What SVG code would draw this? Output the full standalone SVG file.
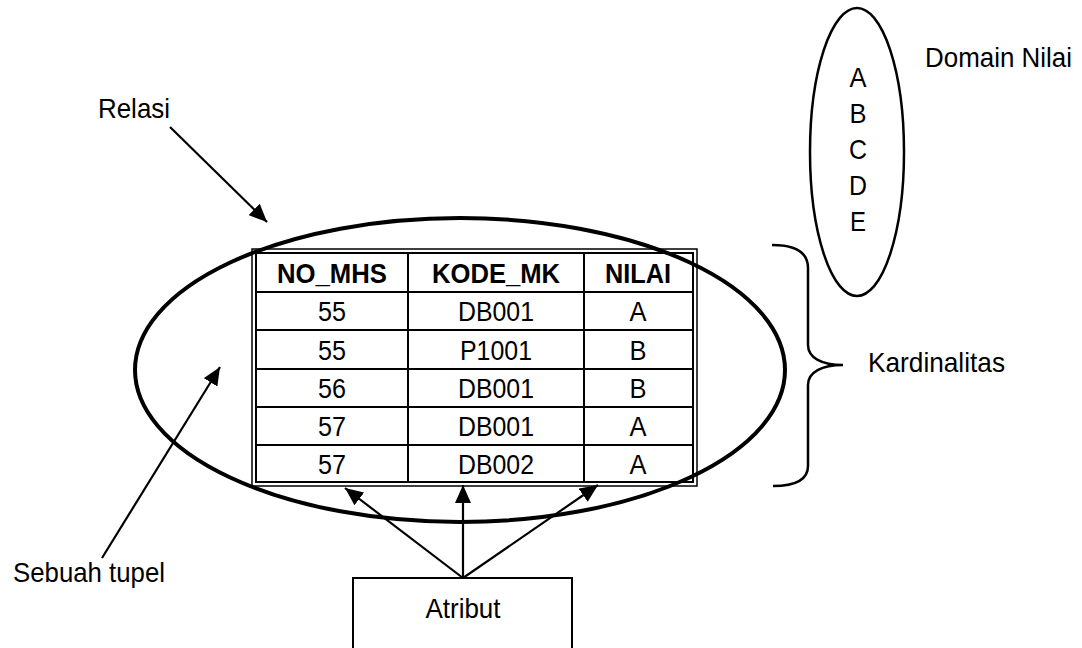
<svg xmlns="http://www.w3.org/2000/svg" width="1082" height="648" viewBox="0 0 1082 648">
<style>
  text { font-family: "Liberation Sans", Arial, sans-serif; fill: #000; }
  .lbl { font-size: 28px; }
  .cell { font-size: 28px; text-anchor: middle; }
  .hdr { font-size: 28px; font-weight: bold; text-anchor: middle; }
  .dom { font-size: 28px; text-anchor: middle; }
  .thin { fill: none; stroke: #000; stroke-width: 1.5; }
  .grid { fill: none; stroke: #000; stroke-width: 2; }
  .conn { fill: none; stroke: #000; stroke-width: 2.2; }
</style>
<defs>
  <marker id="ah" markerUnits="userSpaceOnUse" markerWidth="20" markerHeight="16" refX="18" refY="8" orient="auto">
    <path d="M0,0 L18,8 L0,16 Z" fill="#000"/>
  </marker>
</defs>
<rect width="1082" height="648" fill="#fff"/>

<g id="relasi-table">
  <rect x="252" y="249" width="445" height="237" class="thin"/>
  <rect x="256" y="253" width="437" height="229" class="grid"/>
  <line x1="408" y1="253" x2="408" y2="482" class="grid"/>
  <line x1="584" y1="253" x2="584" y2="482" class="grid"/>
  <line x1="256" y1="292" x2="693" y2="292" class="grid"/>
  <line x1="256" y1="330" x2="693" y2="330" class="grid"/>
  <line x1="256" y1="369" x2="693" y2="369" class="grid"/>
  <line x1="256" y1="407" x2="693" y2="407" class="grid"/>
  <line x1="256" y1="445" x2="693" y2="445" class="grid"/>
  <text x="332" y="283" class="hdr" textLength="110" lengthAdjust="spacingAndGlyphs">NO_MHS</text>
  <text x="496" y="283" class="hdr" textLength="128" lengthAdjust="spacingAndGlyphs">KODE_MK</text>
  <text x="638" y="283" class="hdr" textLength="66" lengthAdjust="spacingAndGlyphs">NILAI</text>
  <text x="332" y="321" class="cell" textLength="28" lengthAdjust="spacingAndGlyphs">55</text>
  <text x="496" y="321" class="cell" textLength="76" lengthAdjust="spacingAndGlyphs">DB001</text>
  <text x="638" y="321" class="cell" textLength="17" lengthAdjust="spacingAndGlyphs">A</text>
  <text x="332" y="360" class="cell" textLength="28" lengthAdjust="spacingAndGlyphs">55</text>
  <text x="496" y="360" class="cell" textLength="72" lengthAdjust="spacingAndGlyphs">P1001</text>
  <text x="638" y="360" class="cell" textLength="17" lengthAdjust="spacingAndGlyphs">B</text>
  <text x="332" y="398" class="cell" textLength="28" lengthAdjust="spacingAndGlyphs">56</text>
  <text x="496" y="398" class="cell" textLength="76" lengthAdjust="spacingAndGlyphs">DB001</text>
  <text x="638" y="398" class="cell" textLength="17" lengthAdjust="spacingAndGlyphs">B</text>
  <text x="332" y="436" class="cell" textLength="28" lengthAdjust="spacingAndGlyphs">57</text>
  <text x="496" y="436" class="cell" textLength="76" lengthAdjust="spacingAndGlyphs">DB001</text>
  <text x="638" y="436" class="cell" textLength="17" lengthAdjust="spacingAndGlyphs">A</text>
  <text x="332" y="474" class="cell" textLength="28" lengthAdjust="spacingAndGlyphs">57</text>
  <text x="496" y="474" class="cell" textLength="76" lengthAdjust="spacingAndGlyphs">DB002</text>
  <text x="638" y="474" class="cell" textLength="17" lengthAdjust="spacingAndGlyphs">A</text>
</g>

<g id="relasi-ellipse">
  <ellipse cx="460" cy="370" rx="325" ry="152" fill="none" stroke="#000" stroke-width="4"/>
</g>

<g id="domain">
  <ellipse cx="857" cy="152" rx="47" ry="144" fill="none" stroke="#000" stroke-width="2.5"/>
  <text x="858" y="87" class="dom" textLength="17" lengthAdjust="spacingAndGlyphs">A</text>
  <text x="858" y="123" class="dom" textLength="17" lengthAdjust="spacingAndGlyphs">B</text>
  <text x="858" y="159" class="dom" textLength="18" lengthAdjust="spacingAndGlyphs">C</text>
  <text x="858" y="195" class="dom" textLength="18" lengthAdjust="spacingAndGlyphs">D</text>
  <text x="858" y="231" class="dom" textLength="16" lengthAdjust="spacingAndGlyphs">E</text>
</g>

<g id="label-domain"><text x="925" y="67" class="lbl" textLength="147" lengthAdjust="spacingAndGlyphs">Domain Nilai</text></g>
<g id="label-relasi"><text x="98" y="118" class="lbl" textLength="72" lengthAdjust="spacingAndGlyphs">Relasi</text></g>
<g id="label-tupel"><text x="13" y="582" class="lbl" textLength="152" lengthAdjust="spacingAndGlyphs">Sebuah tupel</text></g>
<g id="label-kardinalitas"><text x="868" y="372" class="lbl" textLength="137" lengthAdjust="spacingAndGlyphs">Kardinalitas</text></g>

<g id="atribut">
  <path d="M353,648 L353,578 L572,578 L572,648" fill="none" stroke="#000" stroke-width="2"/>
  <text x="463" y="618" class="cell" textLength="75" lengthAdjust="spacingAndGlyphs">Atribut</text>
</g>

<g id="connectors">
  <line x1="170" y1="127" x2="267" y2="222" class="conn" marker-end="url(#ah)"/>
  <line x1="102" y1="558" x2="220" y2="367" class="conn" marker-end="url(#ah)"/>
  <line x1="463" y1="578" x2="345" y2="488" class="conn" marker-end="url(#ah)"/>
  <line x1="463" y1="578" x2="463" y2="485" class="conn" marker-end="url(#ah)"/>
  <line x1="463" y1="578" x2="598" y2="485" class="conn" marker-end="url(#ah)"/>
  <path d="M772,245 C795,245 808,252 808,268 L808,345 C808,358 822,365 843,365 C822,365 808,372 808,385 L808,466 C808,480 795,486 773,486" fill="none" stroke="#000" stroke-width="2.5"/>
</g>
</svg>
